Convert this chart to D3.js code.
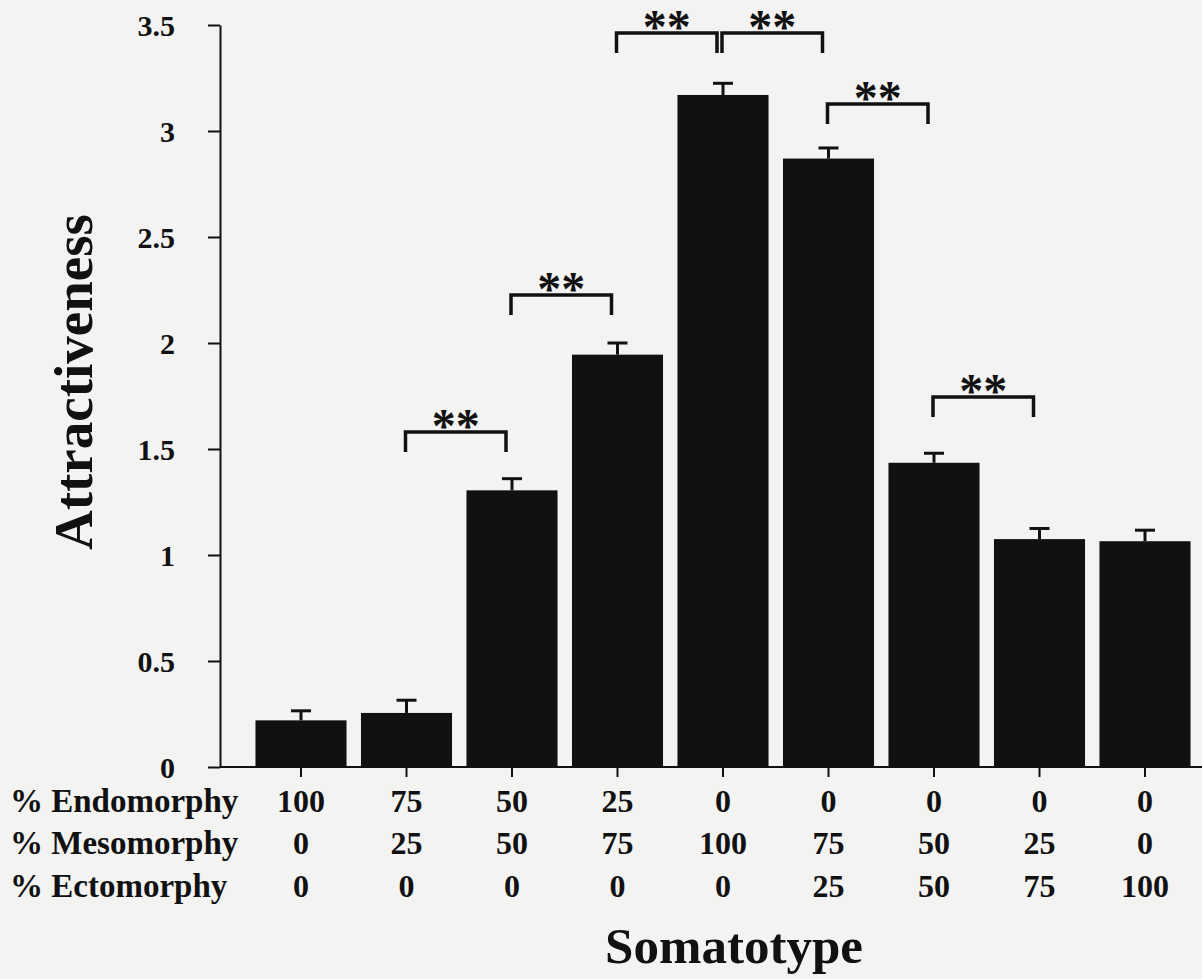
<!DOCTYPE html>
<html>
<head>
<meta charset="utf-8">
<script src="https://cdn.jsdelivr.net/npm/d3@7"></script>
<style>
  html, body { margin: 0; padding: 0; background: #f3f3f1; }
  svg { display: block; }
  text { font-family: "Liberation Serif", "Times New Roman", serif; font-weight: bold; fill: #111; }
</style>
</head>
<body>
<div id="chart"></div>
<script>
// values
const endomorphy = ['100', '75', '50', '25', '0', '0', '0', '0', '0'];
const mesomorphy = ['0', '25', '50', '75', '100', '75', '50', '25', '0'];
const ectomorphy = ['0', '0', '0', '0', '0', '25', '50', '75', '100'];
const rowLabels = ['% Endomorphy', '% Mesomorphy', '% Ectomorphy'];
const means = [0.22, 0.255, 1.305, 1.945, 3.17, 2.87, 1.435, 1.075, 1.065];
const sems = [0.045, 0.06, 0.055, 0.055, 0.055, 0.05, 0.045, 0.05, 0.052];
const yTicks = [0, 0.5, 1, 1.5, 2, 2.5, 3, 3.5];
// significance brackets: [from bar, to bar, level]
const brackets = [[1, 2, 1.58], [2, 3, 2.226], [3, 4, 3.462], [4, 5, 3.462], [5, 6, 3.127], [6, 7, 1.745]];

const width = 1202;
const height = 979;
const axisX = 220;

let svg = d3.select('#chart')
    .append('svg')
    .attr('width', width)
    .attr('height', height);

let x = d3.scaleBand()
    .domain(d3.range(means.length))
    .range([248.25, 1197.75])
    .paddingInner(0.137)
    .paddingOuter(0.0685);

let y = d3.scaleLinear()
    .domain([0, 3.5])
    .range([767, 25]);

let cx = i => x(i) + x.bandwidth() / 2;

// bars
svg.append('g')
    .selectAll('rect')
    .data(means)
    .enter()
    .append('rect')
    .attr('x', (d, i) => x(i))
    .attr('width', x.bandwidth())
    .attr('y', d => y(d))
    .attr('height', d => y(0) - y(d))
    .attr('fill', '#111');

// error bars (upper only)
let err = svg.append('g')
    .attr('stroke', '#111')
    .attr('stroke-width', 3);

means.forEach((m, i) => {
    err.append('line')
        .attr('x1', cx(i)).attr('x2', cx(i))
        .attr('y1', y(m)).attr('y2', y(m + sems[i]));
    err.append('line')
        .attr('x1', cx(i) - 10).attr('x2', cx(i) + 10)
        .attr('y1', y(m + sems[i])).attr('y2', y(m + sems[i]));
});

// y axis
let yAxis = svg.append('g')
    .attr('transform', `translate(${axisX},0)`)
    .call(d3.axisLeft(y).tickValues(yTicks).tickSize(12).tickSizeOuter(0).tickPadding(33).tickFormat(d3.format('')));

yAxis.select('.domain').attr('stroke', '#111').attr('stroke-width', 2);
yAxis.selectAll('.tick line').attr('stroke', '#111').attr('stroke-width', 2);
yAxis.selectAll('.tick text')
    .attr('font-family', '"Liberation Serif", serif')
    .attr('font-size', 30)
    .attr('font-weight', 'bold')
    .attr('fill', '#111')
    .attr('dy', '0.34em');

// x axis line and ticks
svg.append('line')
    .attr('x1', axisX).attr('x2', width)
    .attr('y1', y(0)).attr('y2', y(0))
    .attr('stroke', '#111').attr('stroke-width', 2);

svg.append('g')
    .selectAll('line')
    .data(means)
    .enter()
    .append('line')
    .attr('x1', (d, i) => cx(i)).attr('x2', (d, i) => cx(i))
    .attr('y1', y(0)).attr('y2', y(0) + 10)
    .attr('stroke', '#111').attr('stroke-width', 2);

// composition table under the axis
let rows = [endomorphy, mesomorphy, ectomorphy];
let rowY = [812, 854, 897];

rows.forEach((row, r) => {
    svg.append('text')
        .attr('x', 10)
        .attr('y', rowY[r])
        .attr('font-size', 33)
        .text(rowLabels[r]);

    svg.append('g')
        .selectAll('text')
        .data(row)
        .enter()
        .append('text')
        .attr('x', (d, i) => cx(i))
        .attr('y', rowY[r])
        .attr('text-anchor', 'middle')
        .attr('font-size', 32)
        .text(d => d);
});

// significance brackets
let br = svg.append('g');

brackets.forEach(b => {
    let x1 = cx(b[0]) - 1;
    let x2 = cx(b[1]) - 6;
    let top = y(b[2]);
    br.append('path')
        .attr('d', `M${x1},${top + 20}V${top}H${x2}V${top + 20}`)
        .attr('fill', 'none')
        .attr('stroke', '#111')
        .attr('stroke-width', 3.5);
    br.append('text')
        .attr('x', (x1 + x2) / 2)
        .attr('y', top + 10)
        .attr('text-anchor', 'middle')
        .attr('font-size', 48)
        .text('**');
});

// axis titles
svg.append('text')
    .attr('transform', 'translate(92,382) rotate(-90)')
    .attr('text-anchor', 'middle')
    .attr('font-size', 55)
    .text('Attractiveness');

svg.append('text')
    .attr('x', 734)
    .attr('y', 963)
    .attr('text-anchor', 'middle')
    .attr('font-size', 51)
    .text('Somatotype');
</script>
</body>
</html>
